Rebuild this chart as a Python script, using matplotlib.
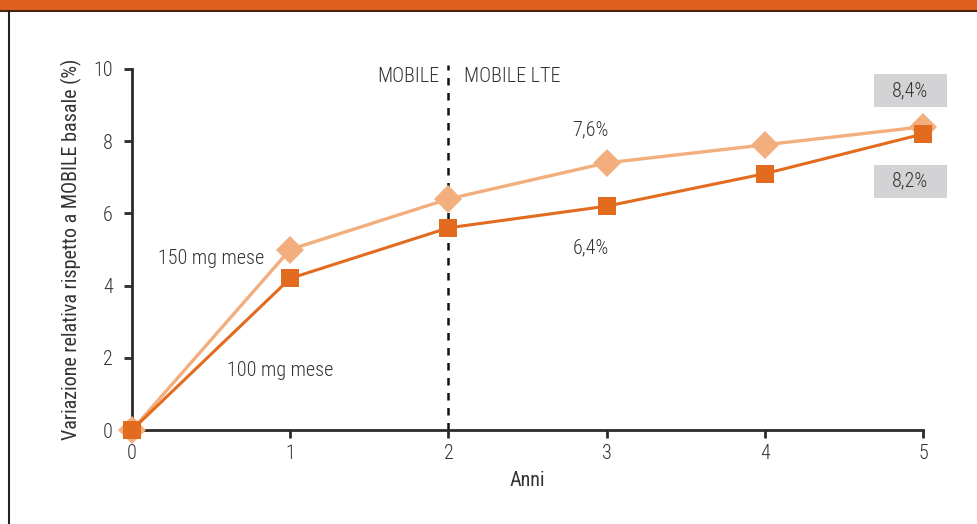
import matplotlib
matplotlib.use("Agg")
import matplotlib.pyplot as plt
from matplotlib.patches import Rectangle
from matplotlib.lines import Line2D

plt.rcParams["font.family"] = ["Roboto Condensed", "DejaVu Sans"]
plt.rcParams["font.weight"] = "light"

# Data
anni = [0, 1, 2, 3, 4, 5]
dose_150 = [0.0, 5.0, 6.4, 7.4, 7.9, 8.4]
dose_100 = [0.0, 4.2, 5.6, 6.2, 7.1, 8.2]
serie_labels = ["150 mg mese", "100 mg mese"]
x_ticks = [0, 1, 2, 3, 4, 5]
y_ticks = [0, 2, 4, 6, 8, 10]
note_labels = ["7,6%", "6,4%"]
end_labels = ["8,4%", "8,2%"]

c_light = "#F2AE7C"
c_dark = "#E26B1F"
c_text = "#333333"
c_axis = "#2b2b2b"
fs = 14.5

fig = plt.figure(figsize=(9.78, 5.24), dpi=100)
W, H = 978, 524

# Header band and frame
fig.patches.append(Rectangle((0, 1 - 10 / H), 1, 10 / H, transform=fig.transFigure,
                             facecolor="#E06020", edgecolor="none"))
fig.lines.append(Line2D([0, 1], [1 - 11 / H, 1 - 11 / H], transform=fig.transFigure,
                        color="#4a2510", lw=1.5))
fig.lines.append(Line2D([9 / W, 9 / W], [0, 1 - 11 / H], transform=fig.transFigure,
                        color="#222222", lw=1.5))

ax = fig.add_axes([132 / W, 1 - 430 / H, (923 - 132) / W, (430 - 69) / H])
ax.set_xlim(0, 5)
ax.set_ylim(0, 10)

for s in ["top", "right"]:
    ax.spines[s].set_visible(False)
for s in ["left", "bottom"]:
    ax.spines[s].set_color(c_axis)
    ax.spines[s].set_linewidth(2)

ax.set_xticks(x_ticks)
ax.set_yticks(y_ticks)
ax.tick_params(axis="both", direction="out", length=6, width=2, color=c_axis,
               labelsize=fs, labelcolor=c_text)
ax.tick_params(axis="y", pad=8)
ax.tick_params(axis="x", pad=4)

# Divider between the two study phases
ax.plot([2, 2], [0, 10.1], ls=(0, (3, 3)), color="#111111", lw=1.8, clip_on=False, zorder=2)
ax.text(1.945, 9.78, "MOBILE", ha="right", va="center", fontsize=fs, color=c_text)
ax.text(2.1, 9.78, "MOBILE LTE", ha="left", va="center", fontsize=fs, color=c_text)

ax.plot(anni, dose_150, color=c_light, lw=2.4, marker="D", markersize=14,
        markeredgewidth=0, clip_on=False, zorder=4)
ax.plot(anni, dose_100, color=c_dark, lw=2.2, marker="s", markersize=13,
        markeredgewidth=0, clip_on=False, zorder=5)

ax.text(0.5, 4.76, serie_labels[0], ha="center", va="center", fontsize=fs, color=c_text)
ax.text(0.935, 1.66, serie_labels[1], ha="center", va="center", fontsize=fs, color=c_text)
ax.text(2.9, 8.31, note_labels[0], ha="center", va="center", fontsize=fs, color=c_text)
ax.text(2.9, 5.04, note_labels[1], ha="center", va="center", fontsize=fs, color=c_text)

# End-point value boxes
box_w, box_h = 0.461, 0.914
for yc, lab in zip([9.4, 6.89], end_labels):
    ax.add_patch(Rectangle((4.69, yc - box_h / 2), box_w, box_h, facecolor="#D3D3D5",
                           edgecolor="none", clip_on=False, zorder=1))
    ax.text(4.69 + box_w / 2, yc, lab, ha="center", va="center", fontsize=fs,
            color=c_text, zorder=6)

ax.set_xlabel("Anni", fontsize=fs, color=c_text, labelpad=6)
ax.set_ylabel("Variazione relativa rispetto a MOBILE basale (%)", fontsize=fs,
              color=c_text, labelpad=8)

fig.savefig("out.png", dpi=100)
